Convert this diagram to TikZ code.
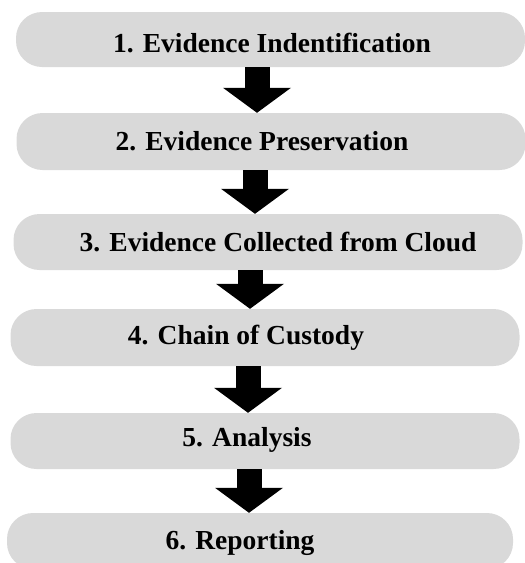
\documentclass[tikz,border=0pt]{standalone}
\usepackage{fontspec}
\setmainfont{Liberation Serif}
\usetikzlibrary{arrows.meta}

\definecolor{stepgray}{HTML}{D9D9D9}

\tikzset{
  stepbox/.style={fill=stepgray, draw=none, rounded corners=26pt,
    minimum width=509pt, minimum height=56pt, inner sep=0pt},
  steptext/.style={font=\fontsize{27.5}{32}\selectfont\bfseries, inner sep=0pt},
  flowarrow/.style={line width=25pt,
    -{Triangle[width=68pt,length=25pt,line width=0pt 0]}}
}

\begin{document}
\begin{tikzpicture}[x=1pt, y=-1pt]

  % page frame, same size as the reference
  \useasboundingbox (0,0) rectangle (525,563);

  % --- Step boxes ---
  \node[stepbox, minimum height=55pt] (b1) at (270.5,39.5) {};
  \node[stepbox, minimum height=57pt] (b2) at (271,141.5) {};
  \node[stepbox] (b3) at (268,242) {};
  \node[stepbox, minimum height=57pt] (b4) at (265,337.5) {};
  \node[stepbox] (b5) at (265,441) {};
  \node[stepbox, minimum width=506pt] (b6) at (260,541) {};

  % --- Step labels ---
  \node[steptext] (t1) at ([xshift=1.5pt,yshift=-4pt]b1.center) {1. Evidence Indentification};
  \node[steptext] (t2) at ([xshift=-9pt]b2.center) {2. Evidence Preservation};
  \node[steptext] (t3) at ([xshift=10pt]b3.center) {3. Evidence Collected from Cloud};
  \node[steptext] (t4) at ([xshift=-19pt]b4.center) {4. Chain of Custody};
  \node[steptext] (t5) at ([xshift=-18pt,yshift=1pt]b5.center) {5. Analysis};
  \node[steptext] (t6) at ([xshift=-20pt,yshift=-2pt]b6.center) {6. Reporting};

  % --- Arrows between the steps ---
  \draw[flowarrow] ([xshift=-13.5pt]b1.south) -- ([xshift=-13.5pt]b1.south |- b2.north);
  \draw[flowarrow] ([xshift=-16pt]b2.south) -- ([xshift=-16pt]b2.south |- b3.north);
  \draw[flowarrow] ([xshift=-18pt]b3.south) -- ([xshift=-18pt]b3.south |- b4.north);
  \draw[flowarrow] ([xshift=-17pt]b4.south) -- ([xshift=-17pt]b4.south |- b5.north);
  \draw[flowarrow] ([xshift=-16pt]b5.south) -- ([xshift=-16pt]b5.south |- b6.north);

\end{tikzpicture}
\end{document}
